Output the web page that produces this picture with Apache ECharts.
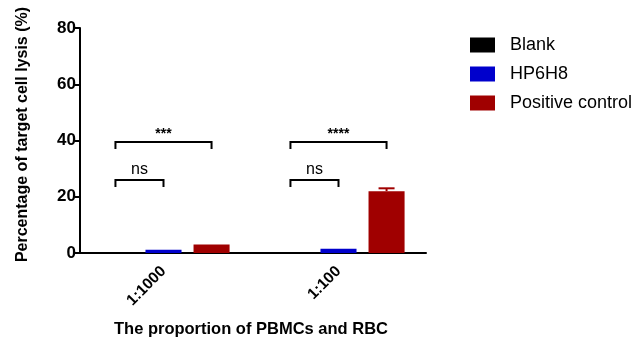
<!DOCTYPE html>
<html><head><meta charset="utf-8">
<script src="https://cdn.jsdelivr.net/npm/echarts@6/dist/echarts.min.js"></script>
<style>html,body{margin:0;padding:0;background:#fff}#c{width:637px;height:350px}</style>
</head><body><div id="c"></div>
<script>
var categories = ['1:1000', '1:100'];
var seriesNames = ['Blank', 'HP6H8', 'Positive control'];
var blankValues = [0.3, 0.1];
var hp6h8Values = [1.2, 1.5];
var positiveValues = [3.0, 22.0];
var positiveErrors = [0, 1.0];
var yTicks = [0, 20, 40, 60, 80];
// brackets: [category index, from series idx, to series idx, y value, label]
var brackets = [
  [0, 0, 1, 26, 'ns'],
  [0, 0, 2, 39.5, '***'],
  [1, 0, 1, 26, 'ns'],
  [1, 0, 2, 39.5, '****']
];
var colors = ['#000000', '#0000cc', '#a00000'];
var FONT = 'Arial, "Liberation Sans", sans-serif';
var BAR_FRAC = 0.206, GAP_FRAC = 0.333;

function offsetFor(api, idx) {
  var bandW = api.size([1, 0])[0];
  var w = bandW * BAR_FRAC;
  return (idx - 1) * w * (1 + GAP_FRAC);
}

var chart = echarts.init(document.getElementById('c'));
chart.setOption({
  animation: false,
  textStyle: {fontFamily: FONT},
  grid: {left: 76, right: 211, top: 28, bottom: 97},
  legend: {
    orient: 'vertical', left: 465, top: 31, itemWidth: 25, itemHeight: 15, itemGap: 11,
    data: seriesNames, icon: 'rect',
    textStyle: {fontSize: 18, color: '#000', fontFamily: FONT, padding: [0, 0, 0, 10]}
  },
  xAxis: {
    type: 'category', data: categories,
    axisLine: {lineStyle: {color: '#000', width: 2}},
    axisTick: {alignWithLabel: true, length: 6, lineStyle: {color: '#000', width: 2}},
    axisLabel: {rotate: 45, fontSize: 15.5, fontWeight: 'bold', color: '#000', margin: 16},
    name: 'The proportion of PBMCs and RBC', nameLocation: 'middle', nameGap: 68,
    nameTextStyle: {fontSize: 16.5, fontWeight: 'bold', color: '#000'}
  },
  yAxis: {
    type: 'value', min: yTicks[0], max: yTicks[yTicks.length - 1], interval: 20,
    offset: -4,
    splitLine: {show: false},
    axisLine: {show: true, lineStyle: {color: '#000', width: 2}},
    axisTick: {show: true, length: 5, lineStyle: {color: '#000', width: 2}},
    axisLabel: {fontSize: 17, fontWeight: 'bold', color: '#000', margin: 4},
    name: 'Percentage of target cell lysis (%)', nameLocation: 'middle', nameGap: 49,
    nameTextStyle: {fontSize: 16, fontWeight: 'bold', color: '#000', padding: [0, 0, 0, 12]}
  },
  series: [
    {name: seriesNames[0], type: 'bar', data: blankValues, barWidth: (BAR_FRAC * 100) + '%', barGap: (GAP_FRAC * 100) + '%', itemStyle: {color: colors[0]}},
    {name: seriesNames[1], type: 'bar', data: hp6h8Values, barWidth: (BAR_FRAC * 100) + '%', barGap: (GAP_FRAC * 100) + '%', itemStyle: {color: colors[1]}},
    {name: seriesNames[2], type: 'bar', data: positiveValues, barWidth: (BAR_FRAC * 100) + '%', barGap: (GAP_FRAC * 100) + '%', itemStyle: {color: colors[2]}},
    {
      type: 'custom', silent: true, z: 5,
      data: positiveValues.map(function (v, i) { return [i, v, positiveErrors[i]]; }),
      renderItem: function (params, api) {
        var i = api.value(0), v = api.value(1), e = api.value(2);
        if (!e) return null;
        var off = offsetFor(api, 2);
        var base = api.coord([i, v]);
        var top = api.coord([i, v + e]);
        var x = base[0] + off;
        return {type: 'group', children: [
          {type: 'line', shape: {x1: x, y1: base[1], x2: x, y2: top[1]}, style: {stroke: colors[2], lineWidth: 2}},
          {type: 'line', shape: {x1: x - 8, y1: top[1], x2: x + 8, y2: top[1]}, style: {stroke: colors[2], lineWidth: 2}}
        ]};
      }
    },
    {
      type: 'custom', silent: true, z: 5,
      data: brackets,
      renderItem: function (params, api) {
        var b = brackets[params.dataIndex];
        var c = api.coord([b[0], b[3]]);
        var x1 = c[0] + offsetFor(api, b[1]);
        var x2 = c[0] + offsetFor(api, b[2]);
        var y = c[1];
        var isNs = b[4] === 'ns';
        return {type: 'group', children: [
          {type: 'polyline', shape: {points: [[x1, y + 7], [x1, y], [x2, y], [x2, y + 7]]}, style: {stroke: '#000', lineWidth: 2, fill: null}},
          {type: 'text', x: (x1 + x2) / 2, y: y - (isNs ? 2 : 1), style: {text: b[4], fontSize: isNs ? 16 : 14, fontWeight: isNs ? 'normal' : 'bold', fontFamily: FONT, fill: '#000', align: 'center', verticalAlign: 'bottom'}}
        ]};
      }
    }
  ]
});
</script></body></html>
